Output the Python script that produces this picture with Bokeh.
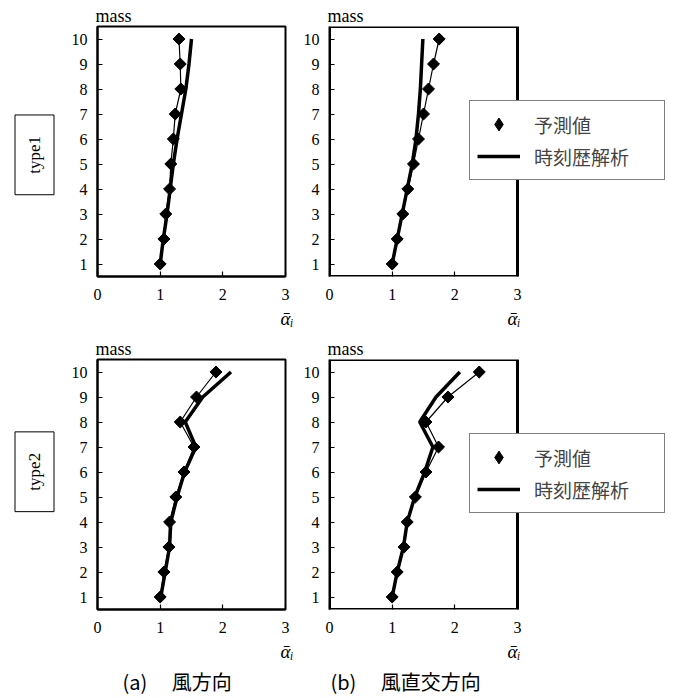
import math
from bokeh.plotting import figure
from bokeh.models import (Range1d, FixedTicker, Legend, LegendItem, Title, Label,
                          BoxAnnotation)
from bokeh.layouts import column, row
from bokeh.embed import file_html
from bokeh.resources import INLINE

# ---- data ----
mass = [1, 2, 3, 4, 5, 6, 7, 8, 9, 10]
x_ticks = [0, 1, 2, 3]
x_max = 3
y_lo, y_hi = 0.5, 10.5

# type1, (a) wind direction
a1_pred = [1.00, 1.06, 1.09, 1.15, 1.17, 1.21, 1.24, 1.33, 1.32, 1.30]
a1_th   = [1.00, 1.05, 1.11, 1.16, 1.21, 1.27, 1.34, 1.41, 1.46, 1.50]
# type1, (b) across-wind direction
b1_pred = [1.00, 1.08, 1.17, 1.25, 1.34, 1.42, 1.50, 1.58, 1.66, 1.75]
b1_th   = [1.00, 1.08, 1.16, 1.24, 1.32, 1.38, 1.42, 1.45, 1.47, 1.49]
# type2, (a)
a2_pred = [1.00, 1.06, 1.14, 1.15, 1.25, 1.38, 1.54, 1.32, 1.58, 1.89]
a2_th   = [1.01, 1.08, 1.15, 1.17, 1.27, 1.39, 1.57, 1.40, 1.68, 2.13]
# type2, (b)
b2_pred = [1.00, 1.08, 1.19, 1.24, 1.37, 1.54, 1.74, 1.54, 1.89, 2.39]
b2_th   = [1.00, 1.08, 1.18, 1.24, 1.36, 1.52, 1.65, 1.44, 1.70, 2.08]

legend_labels = ["予測値", "時刻歴解析"]
row_labels = ["type1", "type2"]
captions = ["(a)\u3000  風方向", "(b)\u3000  風直交方向"]
y_title = "mass"
x_title = "ᾱᵢ"

SERIF = "Liberation Serif"
CJK = "Noto Sans CJK JP"

FRAME_W = 188  # pixels for x = 0..3


def style_axes(p):
    p.grid.visible = False
    p.background_fill_color = "white"
    p.border_fill_color = "white"
    p.xaxis.ticker = FixedTicker(ticks=x_ticks)
    p.yaxis.ticker = FixedTicker(ticks=mass)
    for ax in (p.xaxis, p.yaxis):
        ax.axis_line_color = "black"
        ax.axis_line_width = 2
        ax.major_tick_in = 5
        ax.major_tick_out = 0
        ax.major_tick_line_color = "black"
        ax.major_tick_line_width = 1.2
        ax.minor_tick_line_color = None
        ax.major_label_text_font = SERIF
        ax.major_label_text_font_size = "16px"
        ax.major_label_text_color = "black"
    p.yaxis.major_label_standoff = 10
    p.xaxis.major_label_standoff = 12


def panel(pred, th, height, mb_top, mb_bottom, right=False,
          caption=None, caption_offset=0):
    if right:
        width, mb_left, mb_right = 378, 34, 2
        frame_w = width - mb_left - mb_right
        x_end = x_max * frame_w / FRAME_W
    else:
        width, mb_left, mb_right = 235, 37, 10
        x_end = x_max
    p = figure(width=width, height=height,
               x_range=Range1d(0, x_end), y_range=Range1d(y_lo, y_hi),
               output_backend="svg", toolbar_location=None,
               min_border_left=mb_left, min_border_right=mb_right,
               min_border_top=mb_top, min_border_bottom=mb_bottom)
    style_axes(p)
    if right:
        # the plotting box ends at x = 3; the legend sits beyond it
        p.outline_line_color = None
        p.xaxis.axis_line_color = None
        p.add_layout(BoxAnnotation(left=0, right=x_max, bottom=y_lo, top=y_hi,
                                   fill_alpha=0, line_color="black", line_alpha=1,
                                   line_width=3, level="underlay"))
    else:
        p.outline_line_color = "black"
        p.outline_line_width = 2
        p.outline_line_alpha = 1

    p.line(pred, mass, line_color="black", line_width=1.2)
    if right:
        # diamond stand-in used by the legend (hidden under the last marker)
        leg_marker = p.scatter(pred[-1:], mass[-1:], marker="diamond", size=11,
                               fill_color="black", line_color="black")
    p.scatter(pred, mass, marker="square", angle=math.pi / 4, size=8.5,
              fill_color="black", line_color="black")
    l_thick = p.line(th, mass, line_color="black", line_width=3.5)

    p.title = Title(text=y_title, align="left", offset=-2, standoff=1,
                    text_font=SERIF, text_font_size="18px",
                    text_font_style="normal", text_color="black")
    if right:
        p.add_layout(Title(text=x_title, align="left", offset=178, standoff=6,
                           text_font=SERIF, text_font_size="19px",
                           text_font_style="italic", text_color="black"), "below")
    else:
        p.add_layout(Title(text=x_title, align="right", offset=-8, standoff=6,
                           text_font=SERIF, text_font_size="19px",
                           text_font_style="italic", text_color="black"), "below")
    if caption is not None:
        p.add_layout(Title(text=caption, align="left", offset=caption_offset,
                           standoff=0, text_font=CJK, text_font_size="20px",
                           text_font_style="normal", text_color="black"), "below")

    if right:
        lg = Legend(items=[LegendItem(label=legend_labels[0], renderers=[leg_marker]),
                           LegendItem(label=legend_labels[1], renderers=[l_thick])],
                    location=(140, 96),
                    glyph_width=43, glyph_height=32,
                    label_standoff=14, spacing=0, padding=7, label_width=123,
                    label_text_font=CJK, label_text_font_size="19px",
                    border_line_color="black", border_line_width=1,
                    background_fill_color="white", background_fill_alpha=1,
                    margin=0)
        p.add_layout(lg)
    return p


def type_box(label, height, anchor_from_top):
    t = figure(width=60, height=height, x_range=Range1d(0, 60),
               y_range=Range1d(0, height), output_backend="svg",
               toolbar_location=None, min_border_left=0, min_border_right=0,
               min_border_top=0, min_border_bottom=0)
    t.axis.visible = False
    t.grid.visible = False
    t.outline_line_color = None
    t.add_layout(Label(x=34, y=height - anchor_from_top, text=label,
                       angle=math.pi / 2, text_font=SERIF, text_font_size="17px",
                       text_align="center", text_baseline="middle",
                       text_color="black",
                       border_line_color="black", border_line_width=1,
                       background_fill_color="white", padding=(21, 10)))
    return t


t1 = type_box(row_labels[0], 335, 172)
t2 = type_box(row_labels[1], 363, 163)
pa1 = panel(a1_pred, a1_th, 335, 26, 59)
pb1 = panel(b1_pred, b1_th, 335, 26, 59, right=True)
pa2 = panel(a2_pred, a2_th, 363, 24, 89, caption=captions[0], caption_offset=25)
pb2 = panel(b2_pred, b2_th, 363, 24, 89, right=True,
            caption=captions[1], caption_offset=1)

layout = column(row(t1, pa1, pb1), row(t2, pa2, pb2))

open("out.html", "w").write(file_html(layout, INLINE))
